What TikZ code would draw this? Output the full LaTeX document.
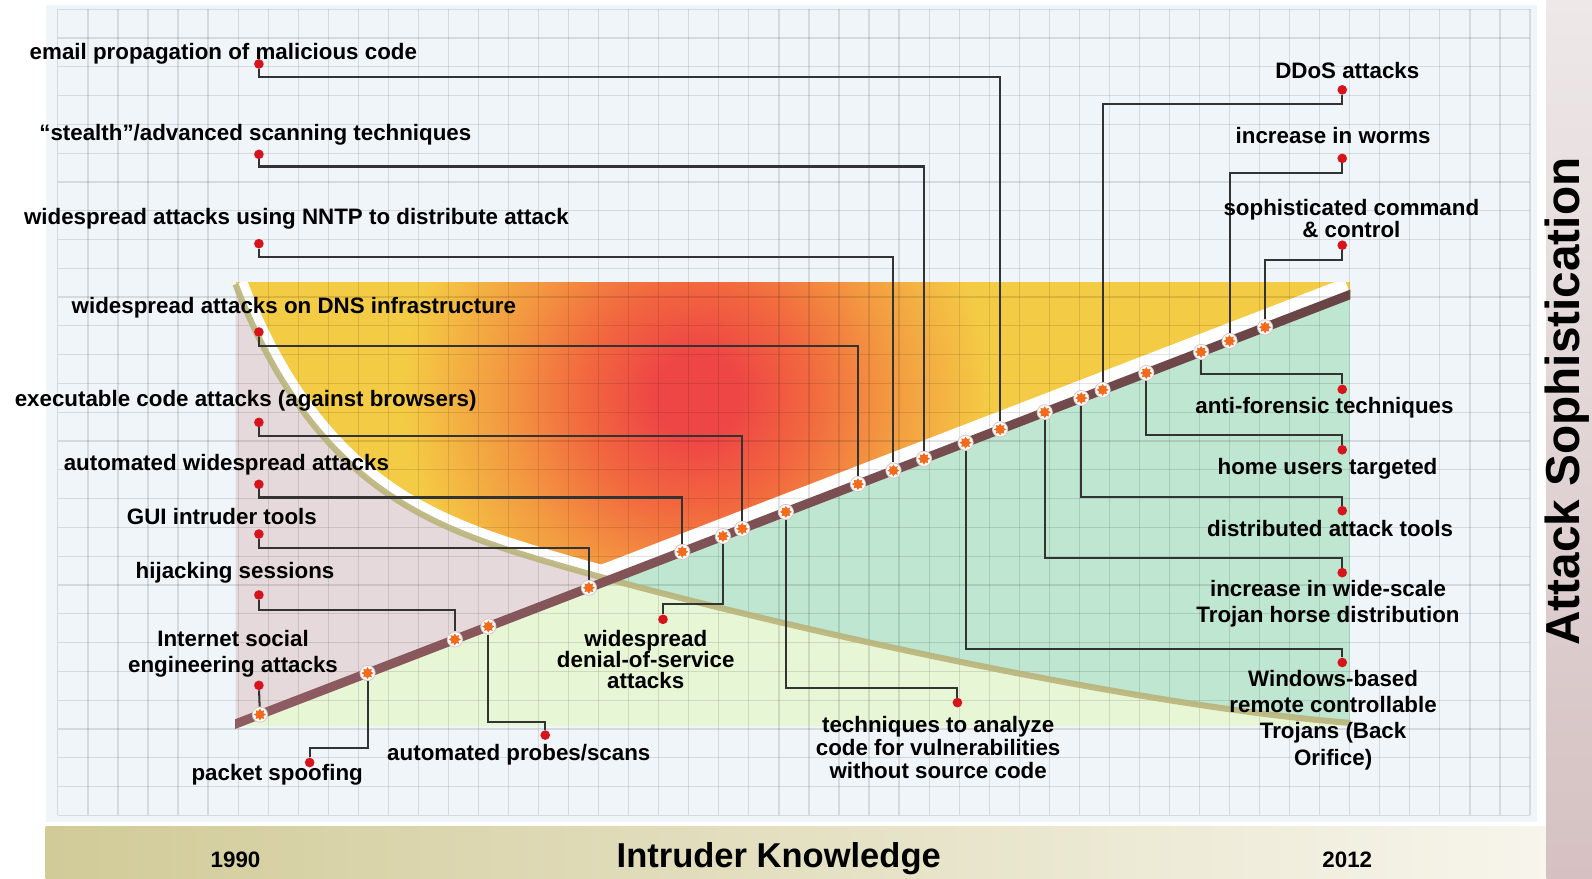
\documentclass[tikz,border=0pt]{standalone}
\usepackage{fontspec}
\setmainfont{Liberation Sans}
\usepackage{tikz}
\usetikzlibrary{shapes.geometric}

\definecolor{PanelBlue}{HTML}{EFF5F9}
\definecolor{BarOlive}{HTML}{D1CB98}
\definecolor{BarCream}{HTML}{F7F5EC}
\definecolor{SideTop}{HTML}{EEE8E8}
\definecolor{SideBottom}{HTML}{D5C1C2}
\definecolor{Mauve}{HTML}{E6D9DC}
\definecolor{Mint}{HTML}{E7F6D5}
\definecolor{Sea}{HTML}{BEE6D1}
\definecolor{Track}{HTML}{BAB47A}
\definecolor{RailRose}{HTML}{8F5C62}
\definecolor{RailBrown}{HTML}{684444}
\definecolor{PinRed}{HTML}{D7141C}
\definecolor{SparkOrange}{HTML}{F26A1B}
\definecolor{HeatRed}{HTML}{EE4545}
\definecolor{HeatCoral}{HTML}{F2683F}
\definecolor{HeatOrange}{HTML}{F39A41}
\definecolor{HeatYellow}{HTML}{F4CB44}

\pgfdeclareradialshading{Heat}{\pgfpoint{0bp}{0bp}}{color(0bp)=(HeatRed); color(2.5bp)=(HeatRed); color(7bp)=(HeatCoral); color(12bp)=(HeatOrange); color(18bp)=(HeatYellow); color(25bp)=(HeatYellow); color(50bp)=(HeatYellow)}

\begin{document}
\begin{tikzpicture}[x=1pt, y=-1pt]
			\tikzstyle{Pin}		= [circle, fill=PinRed, minimum size=9.5pt, inner sep=0pt]
			\tikzstyle{Spark}	= [star, star points=8, star point ratio=1.6, fill=SparkOrange, minimum size=12pt, inner sep=0pt]
			\tikzstyle{Burst}	= [circle, draw=RailRose!35, line width=0.8pt, fill=white, minimum size=15pt, inner sep=0pt, path picture={\node at (path picture bounding box.center) [Spark] {};}]
			\tikzstyle{Wire}	= [draw=black!80, line width=2pt]
			\tikzstyle{Label}	= [font=\bfseries\fontsize{22}{25}\selectfont, align=center, inner sep=0pt]
			\tikzstyle{GridLine}	= [draw=black, opacity=0.11, line width=1.2pt]
			\tikzstyle{Band}	= [draw=white]
			
			\useasboundingbox (0, 0) rectangle (1568, 865);
			\fill [white] (0, 0) rectangle (1568, 865);
			\fill [PanelBlue] (45, 5) rectangle (1514, 810);
			\shade [left color=BarOlive, right color=BarCream] (45, 814) rectangle (1523, 865);
			\shade [top color=SideTop, bottom color=SideBottom] (1523, 0) rectangle (1568, 865);
			
			\coordinate (c0) at (232, 280);
			\coordinate (c1) at (302, 462);
			\coordinate (c2) at (405, 511);
			\coordinate (c3) at (505, 543);
			\coordinate (c4) at (655, 591);
			\coordinate (c5) at (1080, 692);
			\coordinate (c6) at (1330, 712);
			\coordinate (r0) at (232, 713);
			\coordinate (r1) at (1330, 290);
			
			\begin{scope}
				\clip (232, 278) rectangle (1330, 715);
				\begin{scope}
					\clip (c0) .. controls (c1) and (c2) .. (c3) .. controls (c4) and (c5) .. (c6) -- (1330, 270) -- (232, 270) -- cycle;
					\clip (r0) -- (r1) -- (1330, 270) -- (232, 270) -- cycle;
					\fill [HeatYellow] (232, 270) rectangle (1330, 720);
					\shade [shading=Heat] (686, 390) circle (400pt);
				\end{scope}
				\draw [Band, line width=24pt] (c0) .. controls (c1) and (c2) .. (c3) .. controls (c4) and (c5) .. (c6);
				\draw [Band, line width=34pt] (r0) -- (r1);
				\begin{scope}
					\clip (c0) .. controls (c1) and (c2) .. (c3) .. controls (c4) and (c5) .. (c6) -- (1330, 720) -- (232, 720) -- cycle;
					\fill [Mauve] (r0) -- (r1) -- (1330, 270) -- (232, 270) -- cycle;
					\fill [Mint] (r0) -- (r1) -- (1330, 720) -- (232, 720) -- cycle;
				\end{scope}
				\begin{scope}
					\clip (c0) .. controls (c1) and (c2) .. (c3) .. controls (c4) and (c5) .. (c6) -- (1330, 270) -- (232, 270) -- cycle;
					\fill [Sea] (r0) -- (r1) -- (1330, 720) -- (232, 720) -- cycle;
				\end{scope}
			\end{scope}
			
			\foreach \gx in {0, ..., 49}
				\draw [GridLine] ({57 + 29.59 * \gx}, 9) -- ({57 + 29.59 * \gx}, 803);
			\foreach \gy in {0, ..., 28}
				\draw [GridLine] (57, {9 + 28.36 * \gy}) -- (1507, {9 + 28.36 * \gy});
			
			\draw [Track, line width=6pt, opacity=0.9] (c0) .. controls (c1) and (c2) .. (c3) .. controls (c4) and (c5) .. (c6);
			\shade [left color=RailRose, right color=RailBrown] (232, 708.2) -- (1330, 285.2) -- (1330, 294.8) -- (232, 717.8) -- cycle;
			
			\node (dEmail) at (255, 63) [Pin] {};
			\node (dStealth) at (255, 152) [Pin] {};
			\node (dNNTP) at (255, 240) [Pin] {};
			\node (dDNS) at (255, 327) [Pin] {};
			\node (dExec) at (255, 416) [Pin] {};
			\node (dAuto) at (255, 477) [Pin] {};
			\node (dGUI) at (255, 526) [Pin] {};
			\node (dHijack) at (255, 586) [Pin] {};
			\node (dSocial) at (255, 675) [Pin] {};
			\node (dSpoof) at (305, 751) [Pin] {};
			\node (dProbe) at (537, 724) [Pin] {};
			\node (dDoS) at (653, 610) [Pin] {};
			\node (dAnalyze) at (943, 692) [Pin] {};
			\node (dDDoS) at (1322, 88.5) [Pin] {};
			\node (dWorm) at (1322, 156) [Pin] {};
			\node (dCommand) at (1322, 241.5) [Pin] {};
			\node (dForensic) at (1322, 383.5) [Pin] {};
			\node (dHome) at (1322, 443) [Pin] {};
			\node (dDist) at (1322, 503) [Pin] {};
			\node (dTrojan) at (1322, 564) [Pin] {};
			\node (dWindows) at (1322, 652.5) [Pin] {};
			
			\node (sEmail) at (985, 422.9) [Burst] {};
			\node (sStealth) at (910, 451.8) [Burst] {};
			\node (sNNTP) at (880, 463.4) [Burst] {};
			\node (sDNS) at (845, 476.8) [Burst] {};
			\node (sExec) at (731, 520.8) [Burst] {};
			\node (sAuto) at (672, 543.5) [Burst] {};
			\node (sGUI) at (580, 578.9) [Burst] {};
			\node (sHijack) at (448, 629.8) [Burst] {};
			\node (sSocial) at (256, 703.8) [Burst] {};
			\node (sSpoof) at (362, 662.9) [Burst] {};
			\node (sProbe) at (481, 617.1) [Burst] {};
			\node (sDoS) at (712, 528.1) [Burst] {};
			\node (sAnalyze) at (774, 504.2) [Burst] {};
			\node (sDDoS) at (1086, 384) [Burst] {};
			\node (sWorm) at (1211, 335.8) [Burst] {};
			\node (sCommand) at (1246, 322.4) [Burst] {};
			\node (sForensic) at (1183, 346.6) [Burst] {};
			\node (sHome) at (1129, 367.4) [Burst] {};
			\node (sDist) at (1065, 392.1) [Burst] {};
			\node (sTrojan) at (1029, 406) [Burst] {};
			\node (sWindows) at (951, 436) [Burst] {};
			
			\draw [-] (dEmail) -- ++(0, 13) -| (sEmail) [Wire];
			\draw [-] (dStealth) -- ++(0, 12) -| (sStealth) [Wire];
			\draw [-] (dNNTP) -- ++(0, 13) -| (sNNTP) [Wire];
			\draw [-] (dDNS) -- ++(0, 14) -| (sDNS) [Wire];
			\draw [-] (dExec) -- ++(0, 13) -| (sExec) [Wire];
			\draw [-] (dAuto) -- ++(0, 13) -| (sAuto) [Wire];
			\draw [-] (dGUI) -- ++(0, 14) -| (sGUI) [Wire];
			\draw [-] (dHijack) -- ++(0, 15) -| (sHijack) [Wire];
			\draw [-] (dSocial) to (sSocial) [Wire];
			\draw [-] (sSpoof) -- ++(0, 74) -| (dSpoof) [Wire];
			\draw [-] (sProbe) -- ++(0, 94) -| (dProbe) [Wire];
			\draw [-] (sDoS) -- ++(0, 67) -| (dDoS) [Wire];
			\draw [-] (sAnalyze) -- ++(0, 173) -| (dAnalyze) [Wire];
			\draw [-] (dDDoS) -- ++(0, 14) -| (sDDoS) [Wire];
			\draw [-] (dWorm) -- ++(0, 14) -| (sWorm) [Wire];
			\draw [-] (dCommand) -- ++(0, 15) -| (sCommand) [Wire];
			\draw [-] (sForensic) -- ++(0, 22) -| (dForensic) [Wire];
			\draw [-] (sHome) -- ++(0, 61) -| (dHome) [Wire];
			\draw [-] (sDist) -- ++(0, 97) -| (dDist) [Wire];
			\draw [-] (sTrojan) -- ++(0, 144) -| (dTrojan) [Wire];
			\draw [-] (sWindows) -- ++(0, 203) -| (dWindows) [Wire];
			
			\node (tEmail) at (220, 59) [Label, anchor=base] {email propagation of malicious code};
			\node (tStealth) at (251.5, 138.5) [Label, anchor=base] {“stealth”/advanced scanning techniques};
			\node (tNNTP) at (292, 221) [Label, anchor=base] {widespread attacks using NNTP to distribute attack};
			\node (tDNS) at (289.5, 309) [Label, anchor=base] {widespread attacks on DNS infrastructure};
			\node (tExec) at (242, 400) [Label, anchor=base] {executable code attacks (against browsers)};
			\node (tAuto) at (223, 463) [Label, anchor=base] {automated widespread attacks};
			\node (tGUI) at (218.5, 517) [Label, anchor=base] {GUI intruder tools};
			\node (tHijack) at (231.5, 570) [Label, anchor=base] {hijacking sessions};
			\node (tSocial) at (229.5, 644) [Label] {Internet social\\engineering attacks};
			\node (tSpoof) at (273, 769) [Label, anchor=base] {packet spoofing};
			\node (tProbe) at (511, 749) [Label, anchor=base] {automated probes/scans};
			\node (tDoS) at (636, 649.5) [Label, font=\bfseries\fontsize{22}{21}\selectfont] {widespread\\denial-of-service\\attacks};
			\node (tAnalyze) at (924, 736.3) [Label, font=\bfseries\fontsize{22}{22.5}\selectfont] {techniques to analyze\\code for vulnerabilities\\without source code};
			\node (tDDoS) at (1327, 77) [Label, anchor=base] {DDoS attacks};
			\node (tWorm) at (1313, 141) [Label, anchor=base] {increase in worms};
			\node (tCommand) at (1331, 215) [Label, font=\bfseries\fontsize{22}{22}\selectfont] {sophisticated command\\\& control};
			\node (tForensic) at (1304.5, 407) [Label, anchor=base] {anti-forensic techniques};
			\node (tHome) at (1307.5, 467) [Label, anchor=base] {home users targeted};
			\node (tDist) at (1310, 528) [Label, anchor=base] {distributed attack tools};
			\node (tTrojan) at (1308, 594.8) [Label] {increase in wide-scale\\Trojan horse distribution};
			\node (tWindows) at (1313, 709) [Label, font=\bfseries\fontsize{22}{26}\selectfont] {Windows-based\\remote controllable\\Trojans (Back\\Orifice)};
			
			\node (tStart) at (232, 854) [Label, anchor=base] {1990};
			\node (tEnd) at (1327, 854) [Label, anchor=base] {2012};
			\node (tKnow) at (767, 854) [Label, anchor=base, font=\bfseries\fontsize{34}{38}\selectfont] {Intruder Knowledge};
			\node (tSoph) at (1556, 395.5) [Label, anchor=base, rotate=90, font=\bfseries\fontsize{47}{52}\selectfont] {Attack Sophistication};
		\end{tikzpicture}
\end{document}
